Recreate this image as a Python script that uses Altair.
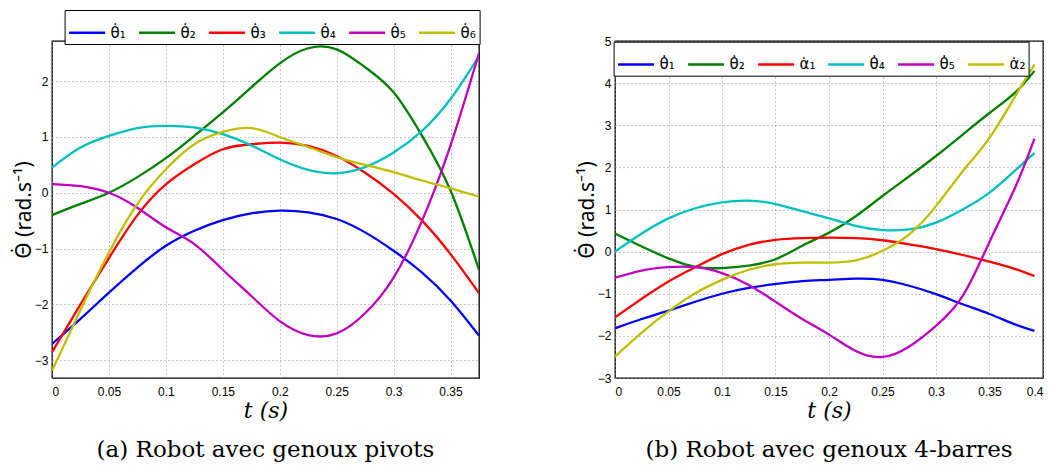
import altair as alt
import pandas as pd

# ---------- panel (a): Robot avec genoux pivots ----------
t_a = [0, 0.025, 0.05, 0.075, 0.1, 0.125, 0.15, 0.175, 0.2, 0.225, 0.25, 0.275, 0.3, 0.325, 0.35, 0.375]
a_th1 = [-2.71, -2.26, -1.79, -1.34, -0.95, -0.68, -0.49, -0.37, -0.32, -0.35, -0.47, -0.71, -1.04, -1.43, -1.93, -2.56]
a_th2 = [-0.40, -0.20, 0.00, 0.28, 0.62, 1.02, 1.44, 1.89, 2.32, 2.59, 2.57, 2.25, 1.80, 1.02, 0.04, -1.38]
a_th3 = [-2.86, -2.00, -1.17, -0.40, 0.15, 0.51, 0.78, 0.87, 0.90, 0.84, 0.66, 0.36, -0.02, -0.50, -1.10, -1.80]
a_th4 = [0.45, 0.81, 1.02, 1.16, 1.20, 1.17, 1.05, 0.85, 0.60, 0.41, 0.35, 0.46, 0.72, 1.11, 1.68, 2.45]
a_th5 = [0.155, 0.12, 0.00, -0.27, -0.62, -0.92, -1.38, -1.85, -2.30, -2.55, -2.52, -2.16, -1.52, -0.50, 0.85, 2.50]
a_th6 = [-3.19, -2.10, -1.07, -0.20, 0.42, 0.87, 1.09, 1.16, 1.00, 0.82, 0.64, 0.50, 0.37, 0.22, 0.08, -0.07]
names_a = ["θ̇₁", "θ̇₂", "θ̇₃", "θ̇₄", "θ̇₅", "θ̇₆"]

# ---------- panel (b): Robot avec genoux 4-barres ----------
t_b = [0, 0.025, 0.05, 0.075, 0.1, 0.125, 0.15, 0.175, 0.2, 0.225, 0.25, 0.275, 0.3, 0.325, 0.35, 0.375, 0.392]
b_th1 = [-1.82, -1.60, -1.40, -1.19, -1.00, -0.86, -0.77, -0.70, -0.67, -0.64, -0.67, -0.81, -1.01, -1.25, -1.48, -1.74, -1.88]
b_th2 = [0.43, 0.12, -0.16, -0.36, -0.39, -0.33, -0.18, 0.14, 0.45, 0.84, 1.32, 1.79, 2.27, 2.78, 3.29, 3.80, 4.29]
b_al1 = [-1.56, -1.12, -0.71, -0.37, -0.06, 0.16, 0.28, 0.32, 0.33, 0.32, 0.27, 0.17, 0.06, -0.08, -0.24, -0.42, -0.58]
b_th4 = [0.00, 0.43, 0.79, 1.03, 1.17, 1.21, 1.13, 0.96, 0.79, 0.61, 0.51, 0.53, 0.69, 1.00, 1.40, 1.95, 2.34]
b_th5 = [-0.62, -0.45, -0.37, -0.37, -0.51, -0.79, -1.19, -1.60, -1.97, -2.36, -2.50, -2.25, -1.76, -1.05, 0.23, 1.58, 2.68]
b_al2 = [-2.49, -1.92, -1.42, -0.99, -0.67, -0.43, -0.30, -0.26, -0.26, -0.21, 0.02, 0.41, 1.08, 1.91, 2.70, 3.73, 4.44]
names_b = ["θ̇₁", "θ̇₂", "α̇₁", "θ̇₄", "θ̇₅", "α̇₂"]

colors = ["#0000FF", "#008000", "#FF0000", "#00BFBF", "#BF00BF", "#BFBF00"]

ticks_xa = [0, 0.05, 0.1, 0.15, 0.2, 0.25, 0.3, 0.35]
ticks_xb = [0, 0.05, 0.1, 0.15, 0.2, 0.25, 0.3, 0.35, 0.4]
ticks_ya = [-3, -2, -1, 0, 1, 2]
ticks_yb = [-3, -2, -1, 0, 1, 2, 3, 4, 5]


def frame(t, series, names):
    rows = []
    for k, (name, vals) in enumerate(zip(names, series)):
        for tt, v in zip(t, vals):
            rows.append({"t": tt, "v": v, "s": name, "k": k})
    return pd.DataFrame(rows)


df_a = frame(t_a, [a_th1, a_th2, a_th3, a_th4, a_th5, a_th6], names_a)
df_b = frame(t_b, [b_th1, b_th2, b_al1, b_th4, b_th5, b_al2], names_b)

SERIF = "DejaVu Serif"
SANS = "Liberation Sans"
GREEK = "DejaVu Sans"


def panel(df, names, xdom, xticks, ydom, yticks, caption, lx, ly, width):
    legend = alt.Legend(
        orient="none", legendX=lx, legendY=ly, direction="horizontal", columns=6,
        title=None, symbolType="stroke", symbolSize=1296, symbolStrokeWidth=2.5,
        labelFont=GREEK, labelFontSize=15, labelColor="black",
        labelOffset=4, columnPadding=7, padding=3, strokeColor="black", fillColor="white",
        cornerRadius=0,
    )
    return alt.Chart(df).mark_line(strokeWidth=2.3, interpolate="natural", clip=True).encode(
        x=alt.X("t:Q", scale=alt.Scale(domain=xdom, nice=False, zero=False),
                axis=alt.Axis(values=xticks, format="~g", title="t (s)",
                              titleY=32, titleBaseline="middle")),
        y=alt.Y("v:Q", scale=alt.Scale(domain=ydom, nice=False, zero=False),
                axis=alt.Axis(values=yticks, format="~g", title="Θ̇ (rad.s⁻¹)", titleFont="Noto Sans",
                              titleFontSize=21, titleFontStyle="normal", titleX=-28,
                              titleBaseline="middle")),
        color=alt.Color("s:N", scale=alt.Scale(domain=names, range=colors), legend=legend),
        order=alt.Order("k:Q"),
    ).properties(
        width=width, height=337,
        title=alt.TitleParams(caption, orient="bottom", anchor="middle", font=SERIF,
                              fontSize=23, fontWeight="normal", color="black", offset=18),
    )


left = panel(df_a, names_a, [0, 0.375], ticks_xa, [-3.32, 2.72], ticks_ya,
             "(a) Robot avec genoux pivots", 12.6, -31, 427)
right = panel(df_b, names_b, [0, 0.4], ticks_xb, [-3, 5], ticks_yb,
              "(b) Robot avec genoux 4-barres", -1.4, 0.7, 428)

chart = alt.hconcat(left, right, spacing=94).resolve_scale(color="independent").properties(
    padding={"left": 4, "top": 0, "right": 2, "bottom": 2}
).configure_view(
    stroke="black", strokeWidth=1.3
).configure_axis(
    domain=False, ticks=False, grid=True, gridColor="#8c8c8c", gridDash=[1, 3], gridWidth=1,
    labelFont=SANS, labelFontSize=12, labelColor="black", labelPadding=4,
    titleFont=SERIF, titleFontSize=22, titleFontStyle="italic", titleFontWeight="normal",
    titleColor="black",
).configure_axisX(labelPadding=8)

chart.save("out.html", embed_options={"renderer": "svg", "actions": False})
